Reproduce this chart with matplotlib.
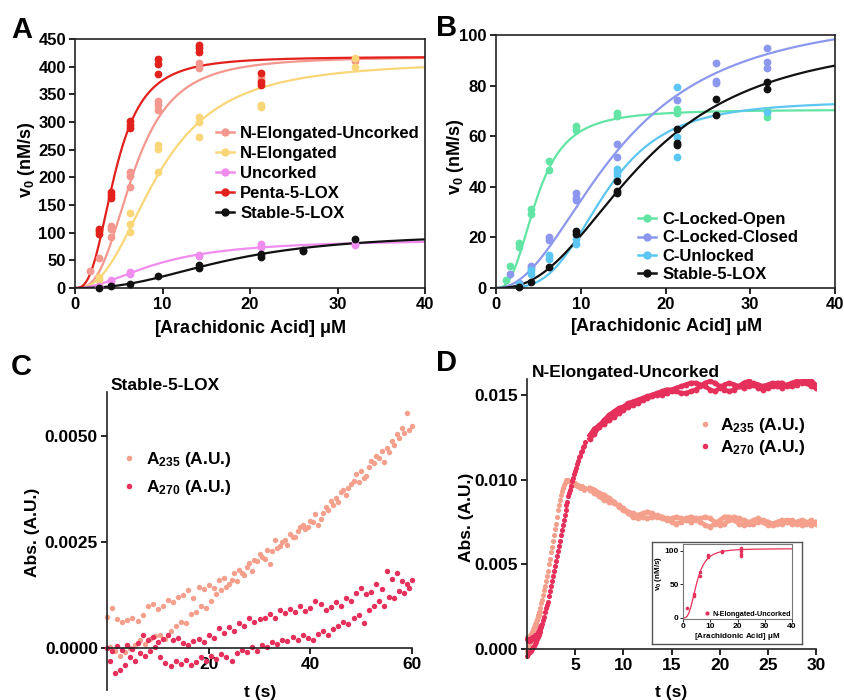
import numpy as np
import matplotlib
matplotlib.use('Agg')
import matplotlib.pyplot as plt
from matplotlib.lines import Line2D
from matplotlib.ticker import FuncFormatter

plt.rcParams['font.family'] = ['Liberation Sans', 'DejaVu Sans']
plt.rcParams['font.weight'] = 'bold'
plt.rcParams['axes.labelweight'] = 'bold'
plt.rcParams['mathtext.fontset'] = 'custom'
plt.rcParams['mathtext.rm'] = 'Liberation Sans:bold'
plt.rcParams['mathtext.it'] = 'Liberation Sans:bold'
plt.rcParams['mathtext.bf'] = 'Liberation Sans:bold'
plt.rcParams['mathtext.sf'] = 'Liberation Sans'

# ---------------- panel A : v0 vs [AA] ----------------
neu_x = [1.7, 2.75, 4.1, 4.1, 4.1, 6.3, 6.3, 6.3, 9.5, 9.5, 9.5, 14.2, 14.2, 21.3, 21.3, 32]
neu_y = [31, 55, 112, 106, 93, 209, 202, 183, 338, 330, 321, 407, 398, 382, 376, 410]
ne_x = [2.75, 2.75, 6.3, 6.3, 6.3, 9.5, 9.5, 9.5, 14.2, 14.2, 14.2, 21.3, 21.3, 32, 32]
ne_y = [20, 14, 136, 116, 101, 258, 252, 210, 309, 300, 273, 330, 327, 416, 400]
unc_x = [2.75, 2.75, 4.1, 4.1, 6.3, 6.3, 14.2, 14.2, 21.3, 21.3, 32, 32]
unc_y = [4, 2, 14, 11, 29, 25, 60, 57, 79, 74, 80, 77]
penta_x = [2.75, 2.75, 2.75, 4.1, 4.1, 4.1, 6.3, 6.3, 6.3, 9.5, 9.5, 9.5, 14.2, 14.2, 14.2, 21.3, 21.3, 21.3]
penta_y = [107, 103, 98, 174, 168, 162, 302, 294, 290, 413, 404, 387, 439, 433, 427, 389, 373, 367]
stabA_x = [2.75, 4.1, 6.3, 9.5, 14.2, 14.2, 21.3, 21.3, 26, 26, 32]
stabA_y = [0, 4, 8, 21, 41, 37, 61, 56, 69, 67, 88]

# Hill fit parameters (Vmax, K, n)
fit_neu = [418, 6.7, 2.9]
fit_ne = [410, 9.5, 2.5]
fit_unc = [88, 9.5, 2.0]
fit_penta = [418, 4.6, 2.8]
fit_stable = [100, 17.5, 2.4]

# ---------------- panel B ----------------
clo_x = [1.2, 1.7, 2.75, 2.75, 4.1, 4.1, 6.3, 6.3, 9.45, 9.45, 14.25, 14.25, 21.3, 21.3, 32, 32]
clo_y = [3, 8.6, 17.8, 16.2, 31.4, 29.2, 50.1, 46.6, 64, 62.4, 69.3, 68, 70.6, 69, 70, 67.7]
clc_x = [1.7, 2.75, 4.1, 4.1, 6.3, 6.3, 9.45, 9.45, 9.45, 14.25, 14.25, 21.3, 26, 26, 26, 32, 32, 32]
clc_y = [5.4, 2, 8.6, 8, 20, 19, 37.6, 35.4, 34.7, 57, 51.6, 74.5, 89, 82, 81, 94.7, 89.4, 86.8]
cun_x = [2.75, 4.1, 4.1, 6.3, 6.3, 9.45, 9.45, 14.25, 14.25, 14.25, 21.3, 21.3, 21.3, 32]
cun_y = [1.7, 7, 5.7, 13, 11.6, 19.5, 17.5, 47.2, 45.9, 44.6, 79.6, 59.8, 51.8, 69.7]
stabB_x = [2.75, 4.1, 6.3, 9.45, 9.45, 14.25, 14.25, 14.25, 21.3, 21.3, 21.3, 26, 26, 32, 32]
stabB_y = [0.4, 2.4, 8.3, 22.6, 21.5, 42.2, 38.4, 37.6, 62.7, 57.4, 56.5, 74.7, 68.3, 81.5, 78.5]
fit_clo = [70.5, 4.8, 2.7]
fit_clc = [110, 14.5, 2.1]
fit_cun = [74, 12.8, 3.5]

# ---------------- panel C : Stable-5-LOX traces ----------------
c_a235_r1 = [0.00074, 0.00094, 0.00068, 0.00062, 0.00066, 0.00070, 0.00064, 0.00078, 0.00098, 0.00105,
             0.00092, 0.00100, 0.00113, 0.00108, 0.00120, 0.00125, 0.00138, 0.00118, 0.00145, 0.00140,
             0.00148, 0.00142, 0.00160, 0.00166, 0.00150, 0.00176, 0.00184, 0.00172, 0.00200, 0.00207,
             0.00223, 0.00210, 0.00198, 0.00254, 0.00240, 0.00254, 0.00270, 0.00262, 0.00285, 0.00280,
             0.00300, 0.00316, 0.00305, 0.00332, 0.00348, 0.00355, 0.00367, 0.00360, 0.00387, 0.00410,
             0.00418, 0.00405, 0.00441, 0.00453, 0.00465, 0.00473, 0.00488, 0.00504, 0.00520, 0.00555,
             0.00523]
c_a235_r2 = [0.00002, -0.00008, -0.00018, -0.00010, 0.00000, 0.00008, 0.00018, 0.00010, 0.00022, 0.00028,
             0.00030, 0.00022, 0.00040, 0.00052, 0.00062, 0.00058, 0.00080, 0.00085, 0.00100, 0.00095,
             0.00112, 0.00128, 0.00138, 0.00145, 0.00160, 0.00158, 0.00178, 0.00190, 0.00182, 0.00205,
             0.00215, 0.00232, 0.00228, 0.00235, 0.00250, 0.00242, 0.00262, 0.00275, 0.00290, 0.00285,
             0.00298, 0.00290, 0.00318, 0.00325, 0.00338, 0.00345, 0.00372, 0.00378, 0.00395, 0.00392,
             0.00400, 0.00428, 0.00436, 0.00448, 0.00440, 0.00462, 0.00480, 0.00495, 0.00508, 0.00515]
c_a270_r1 = [0.00000, -0.00008, 0.00004, -0.00004, 0.00006, -0.00002, 0.00012, 0.00030, 0.00018, 0.00026,
             0.00014, 0.00022, 0.00030, 0.00020, 0.00024, 0.00012, 0.00008, 0.00016, 0.00022, 0.00014,
             0.00030, 0.00024, 0.00048, 0.00036, 0.00050, 0.00040, 0.00060, 0.00052, 0.00070, 0.00062,
             0.00068, 0.00072, 0.00080, 0.00070, 0.00090, 0.00082, 0.00092, 0.00086, 0.00100, 0.00088,
             0.00094, 0.00112, 0.00104, 0.00090, 0.00096, 0.00108, 0.00100, 0.00118, 0.00110, 0.00130,
             0.00142, 0.00128, 0.00132, 0.00150, 0.00140, 0.00182, 0.00162, 0.00178, 0.00158, 0.00150,
             0.00160]
c_a270_r2 = [-0.00030, -0.00060, -0.00052, -0.00040, -0.00022, -0.00030, -0.00012, -0.00018, -0.00008, 0.00002,
             -0.00020, -0.00036, -0.00042, -0.00030, -0.00038, -0.00028, -0.00040, -0.00032, -0.00022, -0.00030,
             -0.00018, -0.00026, -0.00014, -0.00022, -0.00030, -0.00012, -0.00004, -0.00010, 0.00002, -0.00006,
             0.00008, 0.00002, 0.00014, 0.00010, 0.00020, 0.00016, 0.00026, 0.00020, 0.00030, 0.00024,
             0.00018, 0.00034, 0.00040, 0.00030, 0.00044, 0.00052, 0.00062, 0.00056, 0.00070, 0.00078,
             0.00060, 0.00090, 0.00098, 0.00110, 0.00100, 0.00120, 0.00118, 0.00135, 0.00130, 0.00142]
c_t1 = np.arange(len(c_a235_r1)) * 1.0
c_t2 = np.arange(len(c_a235_r2)) * 1.0 + 0.5

# ---------------- panel D : N-Elongated-Uncorked traces ----------------
d_a235_rise = [-0.0001, 0.0000, 0.0002, 0.0004, 0.0005, 0.0007, 0.0009, 0.0011, 0.0013, 0.0015,
               0.0017, 0.0019, 0.0020, 0.0022, 0.0024, 0.0027, 0.0029, 0.0032, 0.0035, 0.0037,
               0.0040, 0.0043, 0.0046, 0.0050, 0.0053, 0.0057, 0.0060, 0.0064, 0.0067, 0.0071,
               0.0074, 0.0078, 0.0082, 0.0085, 0.0088, 0.0091, 0.0093, 0.0095, 0.0097, 0.0098,
               0.0099, 0.0100, 0.0100, 0.0100, 0.0099, 0.0099, 0.0098, 0.0098, 0.0098, 0.0097,
               0.0098, 0.0097, 0.0096, 0.0097, 0.0096, 0.0095, 0.0095, 0.0096, 0.0095, 0.0094,
               0.0095]
d_a270_rise = [-0.0004, -0.0003, -0.0002, -0.0002, -0.0001, 0.0000, 0.0001, 0.0002, 0.0003, 0.0004,
               0.0006, 0.0007, 0.0008, 0.0010, 0.0012, 0.0013, 0.0015, 0.0017, 0.0019, 0.0022,
               0.0024, 0.0026, 0.0028, 0.0031, 0.0034, 0.0037, 0.0040, 0.0043, 0.0046, 0.0049,
               0.0052, 0.0055, 0.0058, 0.0061, 0.0064, 0.0067, 0.0070, 0.0073, 0.0076, 0.0079,
               0.0082, 0.0085, 0.0087, 0.0090, 0.0092, 0.0094, 0.0096, 0.0099, 0.0101, 0.0103,
               0.0105, 0.0107, 0.0109, 0.0111, 0.0113, 0.0114, 0.0116, 0.0117, 0.0119, 0.0120,
               0.0122]
d_a270_early = [0.0006, 0.0005, 0.0006, 0.0005, 0.0006, 0.0007, 0.0006, 0.0007, 0.0008, 0.0008,
                0.0009, 0.0010, 0.0011, 0.0012, 0.0013, 0.0014]
d_a235_early = [0.0007, 0.0006, 0.0007, 0.0008, 0.0009, 0.0010, 0.0012, 0.0013, 0.0015, 0.0016,
                0.0018, 0.0020, 0.0022]
d_a270_p1 = [0.0126, 0.0130, 0.0132, 0.0135, 0.0138, 0.0140, 0.0142, 0.0143, 0.0145, 0.0146,
             0.0147, 0.0148, 0.0149, 0.0150, 0.0151, 0.0152, 0.0153, 0.0153, 0.0154, 0.0155,
             0.0156, 0.0157, 0.0157, 0.0156, 0.0155, 0.0153, 0.0152, 0.0154, 0.0156, 0.0157,
             0.0156, 0.0155, 0.0154, 0.0155, 0.0157, 0.0156, 0.0155, 0.0156, 0.0157, 0.0155,
             0.0154, 0.0156, 0.0157, 0.0158, 0.0157, 0.0159, 0.0158, 0.0156]
d_a270_p2 = [0.0124, 0.0127, 0.0131, 0.0133, 0.0135, 0.0137, 0.0139, 0.0141, 0.0143, 0.0144,
             0.0145, 0.0147, 0.0148, 0.0149, 0.0150, 0.0150, 0.0151, 0.0152, 0.0152, 0.0151,
             0.0151, 0.0152, 0.0153, 0.0155, 0.0157, 0.0158, 0.0157, 0.0155, 0.0153, 0.0152,
             0.0153, 0.0155, 0.0157, 0.0158, 0.0156, 0.0154, 0.0153, 0.0154, 0.0155, 0.0157,
             0.0157, 0.0155, 0.0155, 0.0156, 0.0158, 0.0157, 0.0155, 0.0154]
d_a235_p1 = [0.0094, 0.0092, 0.0090, 0.0088, 0.0087, 0.0086, 0.0085, 0.0083, 0.0081, 0.0080,
             0.0079, 0.0080, 0.0081, 0.0080, 0.0078, 0.0077, 0.0076, 0.0077, 0.0078, 0.0077,
             0.0076, 0.0075, 0.0076, 0.0077, 0.0078, 0.0077, 0.0075, 0.0073, 0.0074, 0.0076,
             0.0078, 0.0077, 0.0076, 0.0075, 0.0074, 0.0075, 0.0076, 0.0075, 0.0074, 0.0075,
             0.0076, 0.0075, 0.0074, 0.0075, 0.0076, 0.0075, 0.0073, 0.0075]
d_a235_p2 = [0.0095, 0.0094, 0.0092, 0.0091, 0.0089, 0.0087, 0.0084, 0.0082, 0.0080, 0.0078,
             0.0077, 0.0078, 0.0077, 0.0078, 0.0079, 0.0078, 0.0077, 0.0075, 0.0074, 0.0075,
             0.0077, 0.0078, 0.0077, 0.0075, 0.0073, 0.0072, 0.0074, 0.0076, 0.0078, 0.0078,
             0.0076, 0.0074, 0.0073, 0.0074, 0.0076, 0.0077, 0.0075, 0.0073, 0.0073, 0.0074,
             0.0074, 0.0076, 0.0076, 0.0074, 0.0073, 0.0074, 0.0076, 0.0074]
d_t_rise = np.arange(len(d_a235_rise)) * 0.1
d_t_plat = 6.5 + np.arange(len(d_a235_p1)) * 0.5

# inset (N-Elongated-Uncorked, second prep)
ins_x = [1.6, 4.0, 4.0, 6.2, 6.2, 9.3, 9.3, 14.2, 14.2, 21.2, 21.2, 21.2, 21.2]
ins_y = [14.4, 36.3, 33, 69, 63, 94, 91, 99, 98, 104, 100, 95.5, 92.5]
fit_ins = [103, 5.0, 3.0]

C_NEU = '#F4978E'
C_NE = '#F9D677'
C_UNC = '#F08CEE'
C_PENTA = '#E2211C'
C_BLK = '#111111'
C_CLO = '#62E4A4'
C_CLC = '#8C98EE'
C_CUN = '#5CC6F2'
C_235 = '#F4A08C'
C_270 = '#E5305C'


def hill(x, p):
    return p[0] * x ** p[2] / (p[1] ** p[2] + x ** p[2])


def fx(px):
    return px / 844.0


def fy(py):
    return 1 - py / 700.0


def style_box(ax, size=12):
    for s in ax.spines.values():
        s.set_linewidth(1.2)
        s.set_color('#222222')
    ax.tick_params(direction='out', length=4.5, width=1.2, labelsize=size, pad=2)


fig = plt.figure(figsize=(8.44, 7), dpi=100)
xc = np.linspace(0, 40, 400)

# ---- A ----
axA = fig.add_axes([fx(75), fy(288), fx(350), 249 / 700])
seriesA = [("N-Elongated-Uncorked", C_NEU, neu_x, neu_y, fit_neu),
           ("N-Elongated", C_NE, ne_x, ne_y, fit_ne),
           ("Uncorked", C_UNC, unc_x, unc_y, fit_unc),
           ("Penta-5-LOX", C_PENTA, penta_x, penta_y, fit_penta),
           ("Stable-5-LOX", C_BLK, stabA_x, stabA_y, fit_stable)]
handles = []
for name, col, xs, ys, p in seriesA:
    axA.plot(xc, hill(xc, p), color=col, lw=1.6, zorder=2)
    axA.plot(xs, ys, 'o', color=col, ms=4.6, zorder=3, clip_on=False)
    handles.append(Line2D([], [], color=col, marker='o', ms=5, lw=1.8, label=name))
axA.set_xlim(0, 40)
axA.set_ylim(0, 450)
axA.set_xticks([0, 10, 20, 30, 40])
axA.set_yticks(range(0, 451, 50))
style_box(axA)
axA.legend(handles=handles, loc='upper left', bbox_to_anchor=(fx(216), fy(126)),
           bbox_transform=fig.transFigure, frameon=False, fontsize=12, handlelength=1.1,
           handletextpad=0.35, labelspacing=0.3, borderpad=0, borderaxespad=0)

# ---- B ----
axB = fig.add_axes([fx(496), fy(288), fx(339), 253 / 700])
seriesB = [("C-Locked-Open", C_CLO, clo_x, clo_y, fit_clo),
           ("C-Locked-Closed", C_CLC, clc_x, clc_y, fit_clc),
           ("C-Unlocked", C_CUN, cun_x, cun_y, fit_cun),
           ("Stable-5-LOX", C_BLK, stabB_x, stabB_y, fit_stable)]
handles = []
for name, col, xs, ys, p in seriesB:
    axB.plot(xc, hill(xc, p), color=col, lw=1.6, zorder=2)
    axB.plot(xs, ys, 'o', color=col, ms=4.6, zorder=3, clip_on=False)
    handles.append(Line2D([], [], color=col, marker='o', ms=5, lw=1.8, label=name))
axB.set_xlim(0, 40)
axB.set_ylim(0, 100)
axB.set_xticks([0, 10, 20, 30, 40])
axB.set_yticks(range(0, 101, 20))
style_box(axB)
axB.legend(handles=handles, loc='upper left', bbox_to_anchor=(fx(638), fy(212)),
           bbox_transform=fig.transFigure, frameon=False, fontsize=12, handlelength=1.1,
           handletextpad=0.35, labelspacing=0.2, borderpad=0, borderaxespad=0)

fig.text(fx(250), fy(328), r'[Arachidonic Acid] $\mathsf{\mu M}$', ha='center', va='center', fontsize=13)
fig.text(fx(666), fy(327), r'[Arachidonic Acid] $\mathsf{\mu M}$', ha='center', va='center', fontsize=13)
fig.text(fx(27), fy(160), r'$v_0$ (nM/s)', rotation=90, ha='center', va='center', fontsize=13)
fig.text(fx(455), fy(157), r'$v_0$ (nM/s)', rotation=90, ha='center', va='center', fontsize=13)

# ---- C ----
axC = fig.add_axes([fx(107), fy(690), fx(305), 298 / 700])
axC.plot(c_t1, c_a235_r1, 'o', color=C_235, ms=3.9, mew=0, clip_on=False)
axC.plot(c_t2, c_a235_r2, 'o', color=C_235, ms=3.9, mew=0, clip_on=False)
axC.plot(c_t1, c_a270_r1, 'o', color=C_270, ms=3.9, mew=0, clip_on=False)
axC.plot(c_t2, c_a270_r2, 'o', color=C_270, ms=3.9, mew=0, clip_on=False)
axC.set_xlim(0, 60)
axC.set_ylim(-0.00099, 0.00604)
axC.set_xticks([20, 40, 60])
axC.set_yticks([0, 0.0025, 0.005])
axC.yaxis.set_major_formatter(FuncFormatter(lambda v, p: '%.4f' % v))
axC.spines['bottom'].set_position(('data', 0))
axC.spines['top'].set_visible(False)
axC.spines['right'].set_visible(False)
style_box(axC, 12.5)
hC = [Line2D([], [], ls='none', marker='o', color=C_235, ms=4, mew=0, label=r'$A_{235}$ (A.U.)'),
      Line2D([], [], ls='none', marker='o', color=C_270, ms=4, mew=0, label=r'$A_{270}$ (A.U.)')]
axC.legend(handles=hC, loc='upper left', bbox_to_anchor=(fx(120), fy(450)),
           bbox_transform=fig.transFigure, frameon=False, fontsize=12.5, handlelength=1.0,
           handletextpad=0.5, labelspacing=0.5, borderpad=0, borderaxespad=0)
fig.text(fx(111), fy(386), 'Stable-5-LOX', ha='left', va='center', fontsize=12.5)
fig.text(fx(33), fy(532), 'Abs. (A.U.)', rotation=90, ha='center', va='center', fontsize=12.5)
fig.text(fx(260), fy(692), 't (s)', ha='center', va='center', fontsize=12.5)

# ---- D ----
axD = fig.add_axes([fx(527), fy(658), fx(289), 279 / 700])
axD.plot(d_t_rise, d_a235_rise, 'o', color=C_235, ms=3.7, mew=0, clip_on=False)
axD.plot(d_t_rise[:len(d_a235_early)], d_a235_early, 'o', color=C_235, ms=3.7, mew=0, clip_on=False)
axD.plot(d_t_plat, d_a235_p1, '-o', color=C_235, ms=4.2, mew=0, lw=3.2)
axD.plot(d_t_plat, d_a235_p2, '-o', color=C_235, ms=4.2, mew=0, lw=3.2)
axD.plot(d_t_rise, d_a270_rise, 'o', color=C_270, ms=3.7, mew=0, clip_on=False)
axD.plot(d_t_rise[:len(d_a270_early)], d_a270_early, 'o', color=C_270, ms=3.7, mew=0, clip_on=False)
axD.plot(d_t_plat, d_a270_p1, '-o', color=C_270, ms=4.2, mew=0, lw=3.2)
axD.plot(d_t_plat, d_a270_p2, '-o', color=C_270, ms=4.2, mew=0, lw=3.2)
axD.set_xlim(0, 30)
axD.set_ylim(-0.00053, 0.01593)
axD.set_xticks([5, 10, 15, 20, 25, 30])
axD.set_yticks([0, 0.005, 0.010, 0.015])
axD.yaxis.set_major_formatter(FuncFormatter(lambda v, p: '%.3f' % v))
axD.spines['bottom'].set_position(('data', 0))
axD.spines['top'].set_visible(False)
axD.spines['right'].set_visible(False)
style_box(axD, 12.5)
hD = [Line2D([], [], ls='none', marker='o', color=C_235, ms=4, mew=0, label=r'$A_{235}$ (A.U.)'),
      Line2D([], [], ls='none', marker='o', color=C_270, ms=4, mew=0, label=r'$A_{270}$ (A.U.)')]
axD.legend(handles=hD, loc='upper left', bbox_to_anchor=(fx(696), fy(416)),
           bbox_transform=fig.transFigure, frameon=False, fontsize=12.5, handlelength=1.0,
           handletextpad=0.4, labelspacing=0.15, borderpad=0, borderaxespad=0)
fig.text(fx(532), fy(372), 'N-Elongated-Uncorked', ha='left', va='center', fontsize=12.5)
fig.text(fx(466), fy(517), 'Abs. (A.U.)', rotation=90, ha='center', va='center', fontsize=12.5)
fig.text(fx(671), fy(692), 't (s)', ha='center', va='center', fontsize=12.5)

# ---- inset in D ----
frame = fig.add_axes([fx(652), fy(644), fx(150), 102 / 700])
frame.set_xticks([])
frame.set_yticks([])
for s in frame.spines.values():
    s.set_color('#555555')
    s.set_linewidth(1.0)
axI = fig.add_axes([fx(683), fy(619), fx(109), 75 / 700])
axI.plot(xc, hill(xc, fit_ins), color=C_270, lw=0.9)
axI.plot(ins_x, ins_y, 'o', color=C_270, ms=2.6, mew=0)
axI.set_xlim(0, 40)
axI.set_ylim(-1.5, 110)
axI.set_xticks([0, 10, 20, 30, 40])
axI.set_yticks([0, 50, 100])
for s in axI.spines.values():
    s.set_color('#777777')
    s.set_linewidth(0.8)
axI.tick_params(direction='out', length=2, width=0.6, labelsize=6, pad=1)
axI.legend(handles=[Line2D([], [], ls='none', marker='o', color=C_270, ms=3, mew=0,
                           label='N-Elongated-Uncorked')],
           loc='lower right', frameon=False, fontsize=5.2, handlelength=0.8,
           handletextpad=0.3, borderpad=0.1, borderaxespad=0.1)
fig.text(fx(737), fy(637), r'[Arachidonic Acid] $\mathsf{\mu M}$', ha='center', va='center', fontsize=5.8)
fig.text(fx(659), fy(573), r'$v_0$ (nM/s)', rotation=90, ha='center', va='center', fontsize=5.8)

# panel letters
for lab, x, y in (("A", 22, 30), ("B", 447, 28), ("C", 21, 367), ("D", 447, 363)):
    fig.text(fx(x), fy(y), lab, ha='center', va='center', fontsize=21, fontweight='bold')

fig.savefig('out.png', dpi=100)
